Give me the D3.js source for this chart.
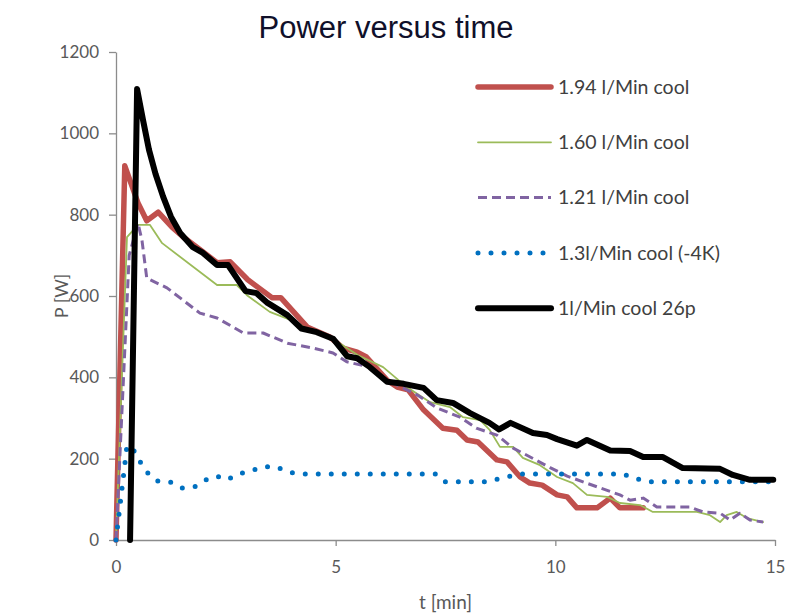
<!DOCTYPE html>
<html><head><meta charset="utf-8">
<script src="https://cdn.jsdelivr.net/npm/d3@7"></script>
<style>body{margin:0;background:#fff}</style>
</head><body>
<svg id="chart" width="794" height="615"></svg>
<script>
// ---- data ----
const chartTitle = "Power versus time";
const xLabel = "t [min]";
const yLabel = "P [W]";
const xTicks = [0, 5, 10, 15];
const yTicks = [0, 200, 400, 600, 800, 1000, 1200];
const seriesNames = ["1.94 l/Min cool", "1.60 l/Min cool", "1.21 l/Min cool", "1.3l/Min cool (-4K)", "1l/Min cool 26p"];

const redT = [0, 0.2, 0.5, 0.7, 0.96, 1.27, 1.53, 1.9, 2.3, 2.6, 3.0, 3.55, 3.75, 4.35, 4.87, 5.17, 5.49, 5.7, 6.17, 6.4, 6.65, 7.0, 7.44, 7.76, 7.99, 8.24, 8.67, 8.9, 9.2, 9.42, 9.7, 10.04, 10.27, 10.49, 10.95, 11.25, 11.47, 12.0];
const redP = [0, 920, 829, 785, 806, 770, 745, 715, 682, 684, 640, 596, 596, 524, 499, 472, 462, 450, 393, 376, 369, 320, 275, 270, 246, 241, 197, 192, 155, 140, 135, 111, 106, 79, 79, 103, 79, 79];

const greenT = [0, 0.25, 0.5, 0.77, 1.05, 2.3, 2.75, 2.98, 3.5, 4.0, 4.5, 5.0, 5.5, 6.08, 6.62, 7.15, 7.6, 7.9, 8.29, 8.51, 8.74, 9.04, 9.26, 9.65, 10.04, 10.4, 10.72, 11.18, 11.47, 11.93, 12.22, 12.77, 13.22, 13.52, 13.75, 13.9, 14.13, 14.36, 14.73];
const greenP = [0, 745, 775, 775, 730, 627, 627, 602, 561, 540, 510, 490, 455, 425, 376, 339, 327, 302, 295, 270, 229, 229, 202, 184, 155, 140, 111, 106, 91, 86, 69, 69, 69, 61, 44, 61, 69, 54, 44];

const purpleT = [0, 0.3, 0.5, 0.59, 0.7, 1.16, 1.91, 2.3, 2.9, 3.35, 3.9, 4.48, 4.94, 5.26, 5.78, 6.17, 6.85, 7.3, 7.83, 8.2, 8.67, 9.04, 9.5, 9.88, 10.27, 10.63, 11.02, 11.47, 11.7, 12.0, 12.31, 13.07, 13.36, 13.75, 13.98, 14.2, 14.43, 14.73];
const purpleP = [0, 700, 779, 738, 644, 620, 558, 546, 509, 509, 484, 472, 460, 438, 425, 393, 357, 325, 302, 275, 258, 226, 200, 178, 157, 143, 128, 111, 98, 103, 81, 81, 69, 66, 49, 66, 49, 44];

const blueT = [0, 0.25, 0.4, 0.55, 0.72, 0.93, 1.23, 1.5, 1.78, 2.05, 2.3, 2.53, 2.78, 3.07, 3.35, 3.64, 3.92, 4.19, 7.3, 7.5, 8.4, 8.9, 9.2, 11.54, 11.86, 12.15, 14.9];
const blueP = [0, 232, 221, 192, 165, 145, 143, 128, 130, 148, 157, 148, 162, 170, 180, 180, 167, 162, 162, 143, 143, 155, 162, 162, 150, 143, 143];

const blackT = [0.32, 0.48, 0.62, 0.75, 0.9, 1.07, 1.25, 1.46, 1.75, 1.98, 2.3, 2.55, 2.95, 3.2, 3.45, 3.9, 4.22, 4.57, 4.94, 5.26, 5.49, 5.78, 6.17, 6.55, 7.0, 7.3, 7.67, 8.06, 8.5, 8.72, 8.98, 9.49, 9.81, 10.04, 10.49, 10.72, 11.25, 11.7, 12.0, 12.45, 12.9, 13.75, 14.04, 14.43, 14.96];
const blackP = [0, 1109, 1030, 960, 900, 845, 795, 755, 720, 706, 676, 676, 612, 607, 583, 553, 520, 511, 495, 452, 447, 425, 389, 384, 374, 344, 337, 312, 288, 272, 288, 263, 258, 248, 232, 246, 220, 219, 204, 204, 177, 175, 160, 148, 148];

// ---- styles ----
const styles = [
  {color: "#c0504d", width: 5.5, dash: null, cap: "round"},
  {color: "#9bbb59", width: 1.8, dash: null, cap: "round"},
  {color: "#8064a2", width: 3, dash: "9 5", cap: "butt"},
  {color: "#0070c0", width: 5, dash: "0 13", cap: "round"},
  {color: "#000000", width: 6, dash: null, cap: "round"}
];
const seriesT = [redT, greenT, purpleT, blueT, blackT];
const seriesP = [redP, greenP, purpleP, blueP, blackP];

const svg = d3.select("#chart");
const L = 116, R = 775, T = 52, B = 540;
const x = d3.scaleLinear().domain([0, 15]).range([L, R]);
const y = d3.scaleLinear().domain([0, 1200]).range([B, T]);
const axisColor = "#8c8c8c";
const labelFont = "Lato, 'Open Sans', sans-serif";

// title
svg.append("text").attr("x", 386).attr("y", 38).attr("text-anchor", "middle")
  .style("font-family", "'Liberation Sans', Arial, sans-serif").style("font-size", "31px")
  .style("fill", "#10102a").text(chartTitle);

// axes
const gx = svg.append("g").attr("transform", `translate(0,${B})`)
  .call(d3.axisBottom(x).tickValues(xTicks).tickSize(6).tickSizeOuter(0).tickPadding(15).tickFormat(d3.format("d")));
const gy = svg.append("g").attr("transform", `translate(${L},0)`)
  .call(d3.axisLeft(y).tickValues(yTicks).tickSize(7).tickSizeOuter(0).tickPadding(10).tickFormat(d3.format("d")));
[gx, gy].forEach(g => {
  g.select(".domain").attr("stroke", axisColor).attr("stroke-width", 1.3);
  g.selectAll(".tick line").attr("stroke", axisColor).attr("stroke-width", 1.3);
  g.selectAll(".tick text").style("font-family", labelFont).style("font-size", "17px").attr("fill", "#595959");
});

svg.append("text").attr("x", (L + R) / 2).attr("y", 609).attr("text-anchor", "middle")
  .style("font-family", labelFont).style("font-size", "19px").attr("fill", "#595959").text(xLabel);
svg.append("text").attr("transform", `translate(68,${(T + B) / 2}) rotate(-90)`).attr("text-anchor", "middle")
  .style("font-family", labelFont).style("font-size", "18px").attr("fill", "#595959").text(yLabel);

// lines
const line = d3.line().x(d => x(d[0])).y(d => y(d[1]));
seriesT.forEach((ts, i) => {
  const pts = ts.map((t, k) => [t, seriesP[i][k]]);
  const st = styles[i];
  svg.append("path").datum(pts).attr("d", line).attr("fill", "none")
    .attr("stroke", st.color).attr("stroke-width", st.width)
    .attr("stroke-linejoin", "round").attr("stroke-linecap", st.cap)
    .attr("stroke-dasharray", st.dash);
});

// legend
const legY0 = 87, legDy = 55.3;
seriesNames.forEach((name, i) => {
  const st = styles[i];
  const yy = legY0 + i * legDy;
  svg.append("line").attr("x1", 478).attr("x2", 551).attr("y1", yy).attr("y2", yy)
    .attr("stroke", st.color).attr("stroke-width", st.width)
    .attr("stroke-linecap", st.cap).attr("stroke-dasharray", st.dash);
  svg.append("text").attr("x", 558).attr("y", yy).attr("dy", "0.35em")
    .style("font-family", labelFont).style("font-size", "19.5px").attr("fill", "#404040").text(name);
});
</script>
</body></html>
